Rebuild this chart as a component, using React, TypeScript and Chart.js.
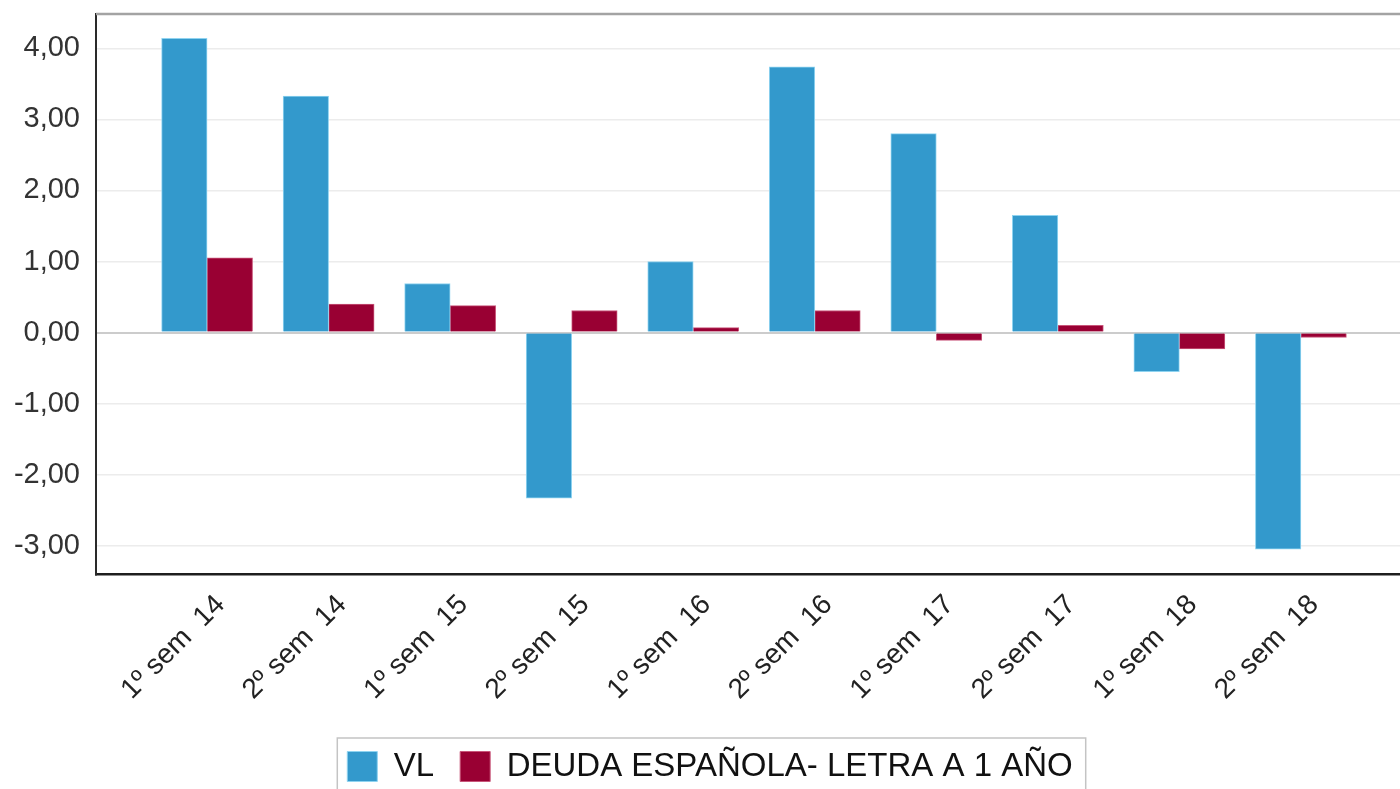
import React, { useEffect, useRef } from 'react';
import { Chart, registerables } from 'chart.js';

Chart.register(...registerables);

const categories = [
  '1º sem  14', '2º sem  14', '1º sem  15', '2º sem  15', '1º sem  16',
  '2º sem  16', '1º sem  17', '2º sem  17', '1º sem  18', '2º sem  18',
];
const vlValues = [4.14, 3.33, 0.69, -2.33, 1.0, 3.74, 2.8, 1.65, -0.55, -3.05];
const deudaValues = [1.05, 0.4, 0.38, 0.31, 0.07, 0.31, -0.11, 0.1, -0.23, -0.07];
const yTicks = [-3, -2, -1, 0, 1, 2, 3, 4];
const seriesNames = ['VL', 'DEUDA ESPAÑOLA- LETRA A 1 AÑO'];

const FONT = '"Liberation Sans", Arial, sans-serif';
const LABEL_SHIFT = 0.11;

export default function App() {
  const ref = useRef<HTMLCanvasElement>(null);

  useEffect(() => {
    if (!ref.current) return;
    const framePlugin = {
      id: 'frame',
      afterDraw(chart: any) {
        const { ctx, chartArea } = chart;
        ctx.save();
        ctx.strokeStyle = '#a3a3a3';
        ctx.lineWidth = 2.5;
        ctx.beginPath();
        ctx.moveTo(chartArea.left, chartArea.top);
        ctx.lineTo(chart.width, chartArea.top);
        ctx.stroke();
        const boxes = chart.legend?.legendHitBoxes || [];
        if (boxes.length) {
          const left = Math.min(...boxes.map((b: any) => b.left)) - 10;
          const right = Math.max(...boxes.map((b: any) => b.left + b.width)) + 13;
          const top = Math.min(...boxes.map((b: any) => b.top)) - 12;
          const bottom = Math.max(...boxes.map((b: any) => b.top + b.height)) + 12;
          ctx.strokeStyle = '#c4c4c4';
          ctx.lineWidth = 1.5;
          ctx.strokeRect(left, top, right - left, bottom - top);
        }
        ctx.restore();
      },
    };

    const chart = new Chart(ref.current, {
      type: 'bar',
      data: {
        datasets: [
          {
            label: seriesNames[0],
            data: vlValues.map((v, i) => ({ x: i, y: v })),
            backgroundColor: '#3399cc',
            borderColor: '#8fd3f0',
            borderWidth: 1,
          },
          {
            label: seriesNames[1],
            data: deudaValues.map((v, i) => ({ x: i, y: v })),
            backgroundColor: '#990033',
            borderColor: '#c8567a',
            borderWidth: 1,
          },
        ],
      },
      plugins: [framePlugin],
      options: {
        animation: false,
        responsive: false,
        events: [],
        layout: { padding: { top: 14, left: 0, right: 0, bottom: 0 } },
        datasets: { bar: { barThickness: 45.5 } },
        scales: {
          x: {
            type: 'linear',
            min: -0.914,
            max: 9.98,
            offset: false,
            grid: { display: false, drawTicks: false },
            border: { display: true, color: '#1e1e1e', width: 2.5 },
            afterBuildTicks: (axis: any) => {
              axis.ticks = categories.map((_, i) => ({ value: i + LABEL_SHIFT }));
            },
            afterFit: (scale: any) => {
              scale.height = 149.5;
              scale.paddingLeft = 0;
              scale.paddingRight = 0;
            },
            ticks: {
              autoSkip: false,
              minRotation: 45,
              maxRotation: 45,
              padding: 14,
              color: '#222',
              font: { family: FONT, size: 28 },
              callback: (v: any) => categories[Math.round(Number(v))] ?? '',
            },
          },
          y: {
            type: 'linear',
            min: -3.406,
            max: 4.484,
            grid: {
              drawTicks: false,
              color: (c: any) => (c.tick && c.tick.value === 0 ? '#cccccc' : '#ececec'),
              lineWidth: (c: any) => (c.tick && c.tick.value === 0 ? 2 : 1.5),
            },
            border: { display: true, color: '#2a2a2a', width: 2 },
            afterBuildTicks: (axis: any) => {
              axis.ticks = yTicks.map((v) => ({ value: v }));
            },
            afterFit: (scale: any) => {
              scale.width = 96;
              scale.paddingTop = 0;
              scale.paddingBottom = 0;
            },
            ticks: {
              padding: 16,
              color: '#333',
              font: { family: FONT, size: 29 },
              callback: (v: any) => Number(v).toFixed(2).replace('.', ','),
            },
          },
        },
        plugins: {
          legend: {
            display: true,
            position: 'bottom',
            labels: {
              boxWidth: 30,
              boxHeight: 30,
              padding: 26,
              color: '#111',
              font: { family: FONT, size: 33 },
              generateLabels: (ch: any) =>
                ch.data.datasets.map((ds: any, i: number) => ({
                  text: ds.label,
                  fillStyle: ds.backgroundColor,
                  strokeStyle: ds.borderColor,
                  lineWidth: 1,
                  hidden: false,
                  datasetIndex: i,
                  fontColor: '#111',
                })),
            },
          },
          tooltip: { enabled: false },
        },
      },
    } as any);
    return () => chart.destroy();
  }, []);

  return (
    <div style={{ position: 'absolute', left: 0, top: 0, width: 1400, height: 789, overflow: 'hidden', background: '#fff' }}>
      <canvas ref={ref} width={1420} height={793} style={{ display: 'block' }} />
    </div>
  );
}
